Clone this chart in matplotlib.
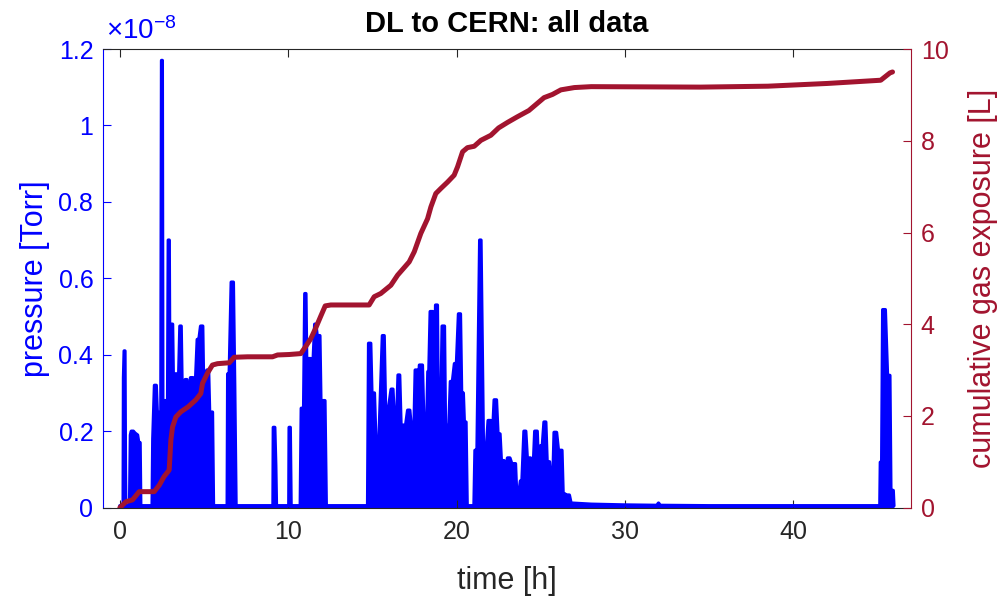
import numpy as np
import matplotlib
matplotlib.use("Agg")
import matplotlib.pyplot as plt
from matplotlib.ticker import FuncFormatter
from matplotlib.transforms import offset_copy

plt.rcParams['font.family'] = ['Liberation Sans', 'DejaVu Sans']
plt.rcParams['mathtext.fontset'] = 'custom'
plt.rcParams['mathtext.rm'] = 'Liberation Sans'
plt.rcParams['mathtext.it'] = 'Liberation Sans'
plt.rcParams['mathtext.bf'] = 'Liberation Sans:bold'

# ---------------- data ----------------
# pressure trace (time in hours, pressure in units of 1e-8 Torr)
pressure_time_h = [
    0.0, 0.2, 0.22, 0.26, 0.3, 0.33, 0.35,
    0.58, 0.63, 0.68, 0.8, 0.9, 1.05, 1.12, 1.2, 1.24,
    1.92, 1.96, 2.06, 2.16, 2.22, 2.44, 2.48, 2.52, 2.55, 2.84, 2.88, 2.93, 2.97, 3.06,
    3.09, 3.13, 3.17, 3.5, 3.57, 3.64, 3.7, 3.88, 3.98, 4.04, 4.2, 4.35, 4.45, 4.6, 4.7,
    4.8, 4.92, 4.98, 5.17, 5.27, 5.33, 5.5, 5.56,
    6.38, 6.41, 6.5, 6.62, 6.74, 6.82, 6.9,
    9.1, 9.12, 9.2, 9.26, 9.3,
    10.04, 10.06, 10.12, 10.17,
    10.72, 10.78, 10.92, 10.99, 11.05, 11.1, 11.2, 11.33, 11.4, 11.58, 11.64, 11.72, 11.88,
    11.94, 12.18, 12.26,
    14.72, 14.78, 14.9, 14.97, 15.12, 15.2, 15.4, 15.6, 15.7, 15.78, 15.96, 16.12, 16.22,
    16.3, 16.45, 16.53, 16.62, 16.7, 16.98, 17.1, 17.22, 17.3, 17.48, 17.55, 17.65, 17.72,
    17.8, 17.97, 18.05, 18.24, 18.3, 18.36, 18.44, 18.58, 18.64, 18.7, 18.76, 18.86, 18.92,
    19.06, 19.15, 19.28, 19.34, 19.55, 19.64, 19.76, 19.88, 20.0, 20.12, 20.23, 20.3, 20.4,
    20.46, 20.56, 20.63,
    21.04, 21.1, 21.22, 21.38, 21.45, 21.6, 21.76, 21.88, 22.02, 22.1, 22.24, 22.37, 22.46,
    22.58, 22.66, 22.82, 22.9, 23.03, 23.17, 23.28, 23.5, 23.57, 23.7, 23.8, 23.89, 24.01,
    24.11, 24.2, 24.4, 24.48, 24.56, 24.65, 24.79, 24.87, 25.0, 25.1, 25.2, 25.3, 25.38,
    25.52, 25.62, 25.72, 25.8, 25.94, 26.05, 26.26, 26.33, 26.44, 26.5, 26.7, 26.8,
    28.0, 30.0, 31.9, 32.0, 32.1, 35.0,
    45.15, 45.18, 45.26, 45.32, 45.47, 45.6, 45.74, 45.8, 45.94, 45.98,
]
pressure_1e8_torr = [
    0.005, 0.005, 0.34, 0.41, 0.41, 0.1, 0.005,
    0.005, 0.19, 0.2, 0.2, 0.195, 0.19, 0.17, 0.17, 0.005,
    0.005, 0.18, 0.32, 0.32, 0.25, 0.25, 1.17, 1.17, 0.28, 0.28, 0.70, 0.70, 0.30, 0.30,
    0.48, 0.48, 0.35, 0.35, 0.475, 0.475, 0.30, 0.335, 0.335, 0.22, 0.34, 0.34, 0.28, 0.44, 0.44,
    0.475, 0.475, 0.30, 0.36, 0.36, 0.25, 0.25, 0.005,
    0.005, 0.35, 0.35, 0.59, 0.59, 0.32, 0.005,
    0.005, 0.21, 0.21, 0.11, 0.005,
    0.005, 0.21, 0.21, 0.005,
    0.005, 0.26, 0.26, 0.56, 0.56, 0.37, 0.39, 0.39, 0.3, 0.48, 0.48, 0.45, 0.45,
    0.28, 0.28, 0.005,
    0.005, 0.43, 0.43, 0.30, 0.30, 0.185, 0.185, 0.45, 0.45, 0.26, 0.26, 0.31, 0.31,
    0.233, 0.233, 0.347, 0.347, 0.216, 0.216, 0.255, 0.255, 0.216, 0.216, 0.36, 0.36, 0.3,
    0.373, 0.373, 0.233, 0.233, 0.356, 0.356, 0.513, 0.513, 0.34, 0.34, 0.53, 0.53, 0.216,
    0.216, 0.475, 0.475, 0.216, 0.216, 0.33, 0.33, 0.377, 0.377, 0.507, 0.507, 0.30, 0.30,
    0.224, 0.224, 0.005,
    0.005, 0.15, 0.15, 0.70, 0.70, 0.145, 0.145, 0.228, 0.228, 0.15, 0.282, 0.282, 0.193,
    0.193, 0.123, 0.123, 0.08, 0.13, 0.13, 0.115, 0.115, 0.036, 0.036, 0.07, 0.07, 0.2,
    0.2, 0.13, 0.13, 0.105, 0.105, 0.2, 0.2, 0.1, 0.162, 0.162, 0.224, 0.224, 0.12,
    0.12, 0.062, 0.062, 0.197, 0.197, 0.15, 0.15, 0.036, 0.036, 0.033, 0.033, 0.012,
    0.009, 0.007, 0.006, 0.012, 0.006, 0.005,
    0.005, 0.119, 0.119, 0.518, 0.518, 0.346, 0.346, 0.045, 0.045, 0.005,
]

# cumulative gas exposure (time in hours, litres)
exposure_time_h = [
    0, 0.36, 0.75, 1.15, 2.04, 2.34, 2.63, 2.93, 3.03, 3.13, 3.33, 3.62, 4.06, 4.51, 4.81,
    4.91, 5.2, 5.5, 5.8, 6.5, 6.79, 7.58, 9.07, 9.37, 10.06, 10.75, 11.05, 11.35, 11.64,
    11.94, 12.2, 12.53, 14.81, 15.11, 15.5, 16.1, 16.5, 17.19, 17.49, 17.88, 18.28, 18.48,
    18.77, 19.07, 19.47, 19.86, 20.06, 20.36, 20.65, 21.05, 21.45, 22.04, 22.5, 23.03,
    23.6, 24.3, 25.2, 25.7, 26.2, 27.0, 28.0, 34.5, 38.5, 42.05, 45.2, 45.75, 45.9,
]
exposure_L = [
    0, 0.13, 0.17, 0.35, 0.35, 0.49, 0.68, 0.82, 1.47, 1.76, 1.98, 2.09, 2.2, 2.35, 2.49,
    2.71, 2.93, 3.11, 3.14, 3.16, 3.28, 3.29, 3.29, 3.33, 3.34, 3.36, 3.52, 3.69, 3.92,
    4.18, 4.4, 4.42, 4.42, 4.6, 4.67, 4.85, 5.07, 5.36, 5.58, 5.98, 6.3, 6.56,
    6.85, 6.96, 7.1, 7.25, 7.43, 7.76, 7.85, 7.88, 8.01, 8.12, 8.28, 8.4,
    8.52, 8.66, 8.94, 9.01, 9.11, 9.16, 9.18, 9.17, 9.19, 9.25, 9.32, 9.48, 9.5,
]

x_ticks = [0, 10, 20, 30, 40]
left_ticks_1e8 = [0, 0.2, 0.4, 0.6, 0.8, 1.0, 1.2]
right_ticks = [0, 2, 4, 6, 8, 10]

# ---------------- plot ----------------
BLUE = (0, 0, 1)
RED = '#A2142F'
GRAY = '#262626'

fig = plt.figure(figsize=(10.03, 5.98), dpi=100)
ax1 = fig.add_axes([0.1027, 0.151, 0.8056, 0.767])

t_p = np.array(pressure_time_h)
p = np.array(pressure_1e8_torr) * 1e-8
ax1.fill_between(t_p, 0, p, color=BLUE, linewidth=0)
ax1.plot(t_p, p, color=BLUE, lw=2.5, solid_joinstyle='round', solid_capstyle='round')

ax1.set_xlim(-1, 47)
ax1.set_ylim(0, 1.2e-8)
ax1.set_xticks(x_ticks)
ax1.set_yticks([v * 1e-8 for v in left_ticks_1e8])
ax1.yaxis.set_major_formatter(FuncFormatter(lambda v, _: f"{v / 1e-8:g}"))

ax1.tick_params(axis='both', direction='in', length=6, width=0.8, labelsize=18)
ax1.tick_params(axis='x', top=True, colors=GRAY, pad=9)
ax1.tick_params(axis='y', colors=BLUE, pad=7)
for s in ['top', 'bottom']:
    ax1.spines[s].set_color(GRAY)
    ax1.spines[s].set_linewidth(0.8)
ax1.spines['left'].set_color(BLUE)
ax1.spines['left'].set_linewidth(0.8)
ax1.spines['right'].set_visible(False)

ax1.set_xlabel('time [h]', fontsize=22, color=GRAY, labelpad=16)
ax1.set_ylabel('pressure [Torr]', fontsize=22, color=BLUE, labelpad=6)
ax1.set_title('DL to CERN: all data', fontsize=21, fontweight='bold', color='black', pad=12)
tr = offset_copy(ax1.transAxes, fig=fig, x=2, y=3, units='points')
ax1.text(0.0, 1.0, r'$\times10^{-8}$', transform=tr, fontsize=20,
         color=BLUE, ha='left', va='bottom')

ax2 = ax1.twinx()
ax2.plot(exposure_time_h, exposure_L, color=RED, lw=3.6, solid_joinstyle='round',
         solid_capstyle='round')
ax2.set_ylim(0, 10)
ax2.set_yticks(right_ticks)
ax2.tick_params(axis='y', direction='in', length=6, width=0.8, labelsize=18, colors=RED, pad=7)
for s in ['top', 'bottom', 'left']:
    ax2.spines[s].set_visible(False)
ax2.spines['right'].set_color(RED)
ax2.spines['right'].set_linewidth(0.8)
ax2.set_ylabel('cumulative gas exposure [L]', fontsize=22, color=RED, labelpad=14)

fig.savefig('out.png', dpi=100)
